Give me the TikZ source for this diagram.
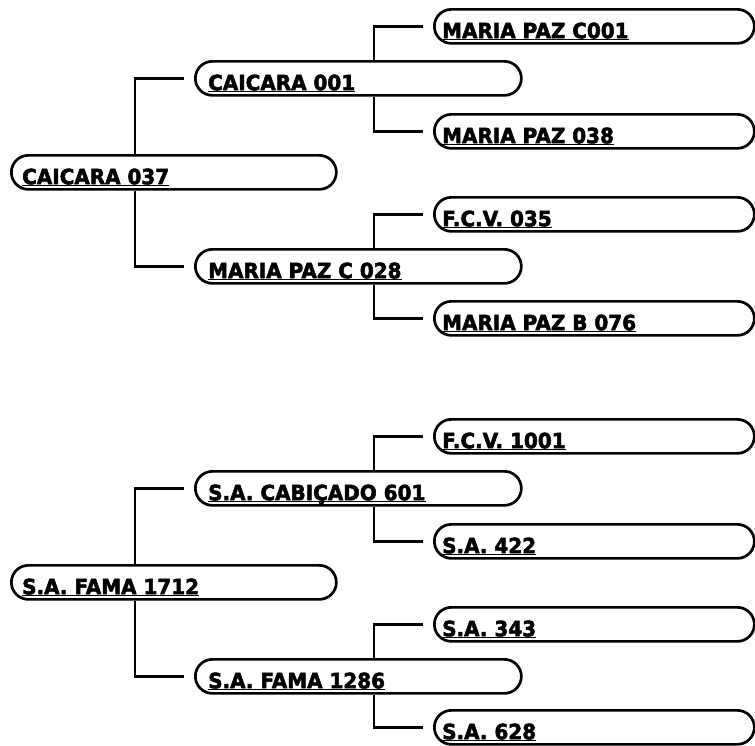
\documentclass[tikz,border=0pt]{standalone}
\usepackage{fontspec}
\setmainfont{DejaVu Sans}
\newfontfamily\lblfont{DejaVu Sans}[FakeStretch=0.95, BoldFeatures={FakeBold=2.5}]
\tikzset{
  pbox/.style={draw, line width=2.7pt, rounded corners=17pt, minimum height=34pt,
    inner sep=0pt, anchor=north west},
  lbl/.style={font=\lblfont\fontsize{21}{23}\selectfont\bfseries, inner sep=0pt, anchor=base west},
  uline/.style={line width=1.5pt},
  link/.style={line width=2.3pt}
}
\newcommand\person[6]{%
  \node[pbox, minimum width=#4pt] (#1) at (#2,#3) {};
  \node[lbl] (#1t) at ([xshift=#5pt,yshift=6.5pt]#1.south west) {#6};
  \draw[uline] ([yshift=-1.5pt]#1t.base west) -- ([yshift=-1.5pt]#1t.base east);
}
\begin{document}
\begin{tikzpicture}[x=1pt,y=-1pt]
\useasboundingbox (0,0) rectangle (755,745);
% group 1
\person{ar}{10}{154}{325}{12}{CAICARA 037}
\person{am1}{194}{60}{326}{14}{CAICARA 001}
\person{am2}{194}{248}{326}{14}{MARIA PAZ C 028}
\person{al1}{433}{8}{320}{9}{MARIA PAZ C001}
\person{al2}{433}{113}{320}{9}{MARIA PAZ 038}
\person{al3}{433}{196}{320}{9}{F.C.V. 035}
\person{al4}{433}{300}{320}{9}{MARIA PAZ B 076}
% group 2
\person{br}{10}{564}{325}{12}{S.A. FAMA 1712}
\person{bm1}{194}{470}{326}{14}{S.A. CABIÇADO 601}
\person{bm2}{194}{658}{326}{14}{S.A. FAMA 1286}
\person{bl1}{433}{418}{320}{9}{F.C.V. 1001}
\person{bl2}{433}{523}{320}{9}{S.A. 422}
\person{bl3}{433}{606}{320}{9}{S.A. 343}
\person{bl4}{433}{709}{320}{9}{S.A. 628}
% connectors
\foreach \g in {a,b}{
  \draw[link] ([xshift=125pt]\g r.north west) |- ([xshift=-10pt]\g m1.west);
  \draw[link] ([xshift=125pt]\g r.south west) |- ([xshift=-10pt]\g m2.west);
  \draw[link] ([xshift=180pt]\g m1.north west) |- ([xshift=-10pt]\g l1.west);
  \draw[link] ([xshift=180pt]\g m1.south west) |- ([xshift=-10pt]\g l2.west);
  \draw[link] ([xshift=180pt]\g m2.north west) |- ([xshift=-10pt]\g l3.west);
  \draw[link] ([xshift=180pt]\g m2.south west) |- ([xshift=-10pt]\g l4.west);
}
\end{tikzpicture}
\end{document}
